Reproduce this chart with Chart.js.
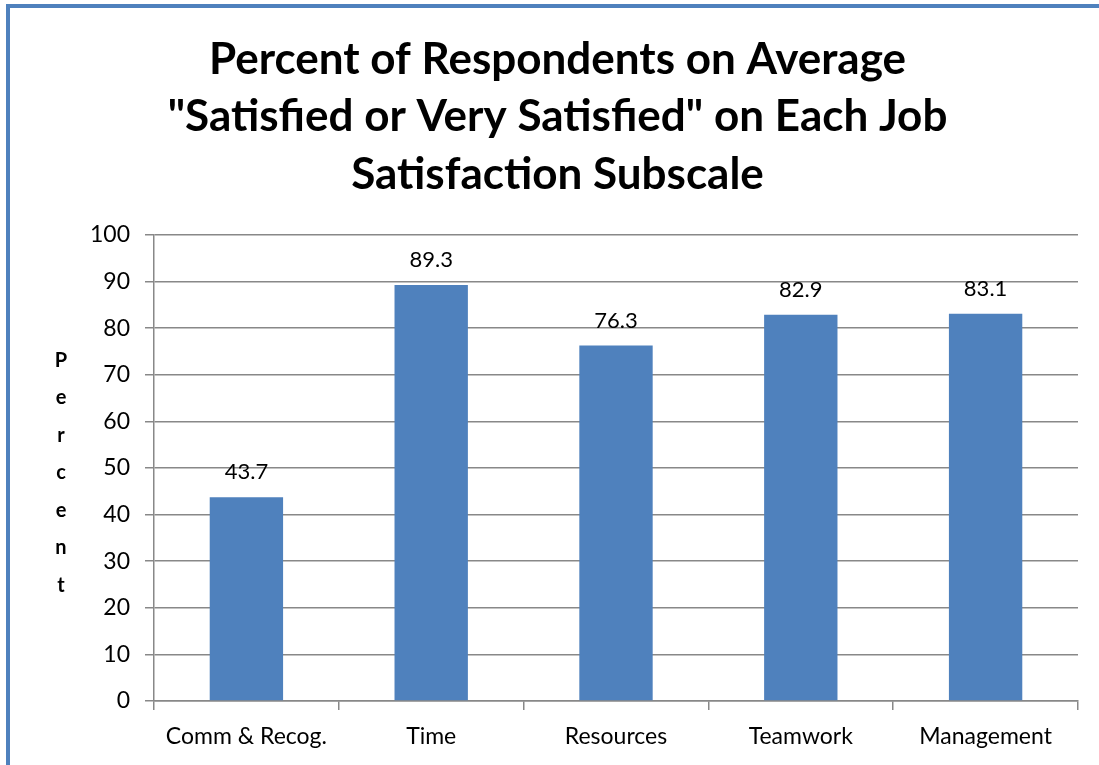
<!DOCTYPE html>
<html>
<head>
<meta charset="utf-8">
<script src="https://cdn.jsdelivr.net/npm/chart.js@4.4.1/dist/chart.umd.min.js"></script>
<style>
  html, body { margin: 0; padding: 0; background: #fff; }
  #frame {
    position: absolute; left: 6px; top: 4px; width: 1093px; height: 761px;
    border-top: 4px solid #4F81BD; border-left: 4px solid #4F81BD;
    box-sizing: border-box;
  }
  #wrap { position: absolute; left: 0; top: 0; width: 1099px; height: 765px; }
</style>
</head>
<body>
<div id="frame"></div>
<div id="wrap"><canvas id="c" width="1099" height="765"></canvas></div>
<script>
const categories = ['Comm & Recog.', 'Time', 'Resources', 'Teamwork', 'Management'];
const percentValues = [43.7, 89.3, 76.3, 82.9, 83.1];
const titleLines = ['Percent of Respondents on Average', '"Satisfied or Very Satisfied" on Each Job', 'Satisfaction Subscale'];
const yAxisLetters = ['P', 'e', 'r', 'c', 'e', 'n', 't'];

const FONT = "Lato, Carlito, Calibri, 'Open Sans', sans-serif";
const GRID = '#888888';

// Writes each bar's value centered above it
const valueLabels = {
  id: 'valueLabels',
  afterDatasetsDraw(chart) {
    const ctx = chart.ctx;
    const meta = chart.getDatasetMeta(0);
    ctx.save();
    ctx.font = '22px ' + FONT;
    ctx.fillStyle = '#000';
    ctx.textAlign = 'center';
    ctx.textBaseline = 'middle';
    meta.data.forEach((bar, i) => {
      ctx.fillText(percentValues[i].toFixed(1), bar.x, bar.y - 25);
    });
    ctx.restore();
  }
};

// Stacks the y axis title letters one above another, upright
const stackedAxisTitle = {
  id: 'stackedAxisTitle',
  afterDraw(chart) {
    const ctx = chart.ctx;
    const area = chart.chartArea;
    const step = 37.5;
    const mid = (area.top + area.bottom) / 2 + 5;
    const first = mid - step * (yAxisLetters.length - 1) / 2;
    ctx.save();
    ctx.font = 'bold 20px ' + FONT;
    ctx.fillStyle = '#000';
    ctx.textAlign = 'center';
    ctx.textBaseline = 'middle';
    yAxisLetters.forEach((ch, i) => ctx.fillText(ch, 61, first + i * step));
    ctx.restore();
  }
};

new Chart(document.getElementById('c'), {
  type: 'bar',
  data: {
    labels: categories,
    datasets: [{
      data: percentValues,
      backgroundColor: '#4F81BD',
      borderWidth: 0,
      categoryPercentage: 1,
      barPercentage: 0.397
    }]
  },
  options: {
    responsive: false,
    animation: false,
    layout: { padding: { left: 37, right: 21, top: 0, bottom: 0 } },
    plugins: {
      legend: { display: false },
      tooltip: { enabled: false },
      title: {
        display: true,
        text: titleLines,
        color: '#000',
        font: { family: FONT, size: 44, weight: 'bold', lineHeight: 1.307 },
        padding: { top: 31, bottom: 31.5 }
      }
    },
    scales: {
      x: {
        offset: true,
        grid: {
          offset: true,
          drawOnChartArea: false,
          drawTicks: true,
          tickLength: 9,
          color: GRID,
          lineWidth: 1.5
        },
        border: { display: true, color: GRID, width: 1.5 },
        ticks: {
          color: '#000',
          font: { family: FONT, size: 23 },
          padding: 13,
          maxRotation: 0
        },
        afterFit(scale) { scale.height = 64; }
      },
      y: {
        min: 0,
        max: 100,
        grid: {
          color: GRID,
          lineWidth: 1.5,
          drawTicks: true,
          tickLength: 9
        },
        border: { display: true, color: GRID, width: 1.5 },
        ticks: {
          stepSize: 10,
          color: '#000',
          font: { family: FONT, size: 23 },
          padding: 15
        },
        title: { display: false },
        afterFit(scale) { scale.width = 117; }
      }
    }
  },
  plugins: [valueLabels, stackedAxisTitle]
});
</script>
</body>
</html>
